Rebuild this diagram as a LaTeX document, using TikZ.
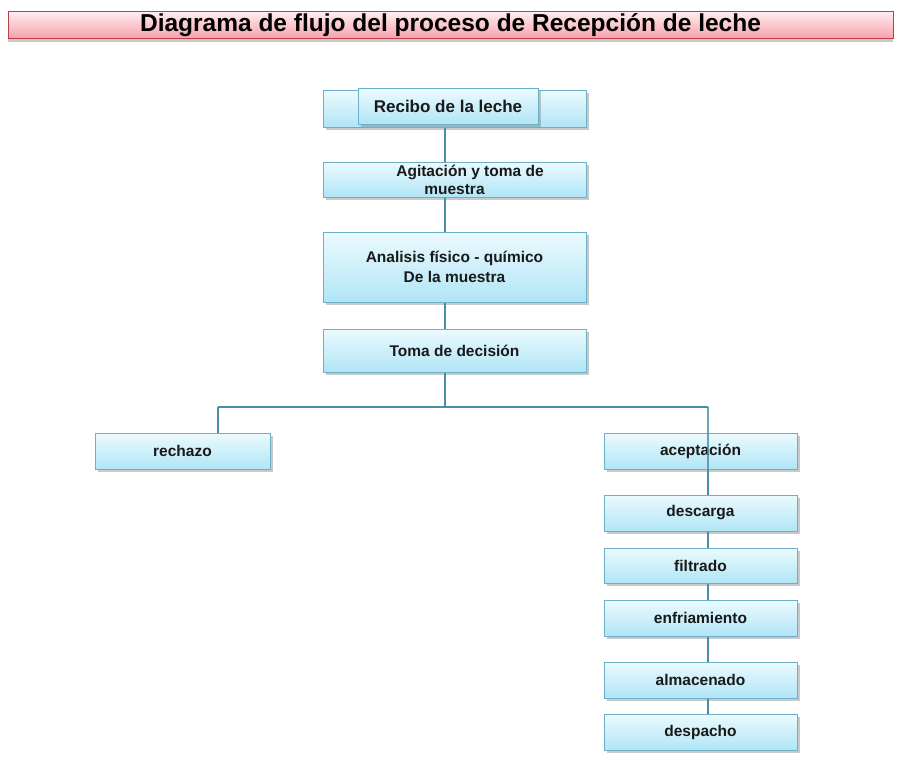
\documentclass[tikz,border=0pt]{standalone}
\usepackage{fontspec}
\setmainfont{Liberation Sans}
\usetikzlibrary{shadows}
\definecolor{boxtop}{RGB}{236,250,254}
\definecolor{boxbot}{RGB}{176,229,246}
\definecolor{boxborder}{RGB}{110,175,200}
\definecolor{linkcol}{RGB}{72,142,168}
\definecolor{titletop}{RGB}{255,236,239}
\definecolor{titlebot}{RGB}{245,160,170}
\definecolor{titleborder}{RGB}{185,65,72}
\begin{document}
\begin{tikzpicture}[x=1pt,y=-1pt,
  box/.style={draw=boxborder, line width=1pt, top color=boxtop, bottom color=boxbot,
    drop shadow={shadow xshift=2.5pt, shadow yshift=-2.5pt, opacity=0.35, fill=black!60},
    font=\bfseries\fontsize{15.5}{19}\selectfont, align=center, inner sep=0pt,
    text=black!90},
  mainbox/.style={box, minimum width=263pt},
  sidebox/.style={box, minimum width=193pt, minimum height=36pt},
  link/.style={draw=linkcol, line width=1.2pt}]
\useasboundingbox (0,0) rectangle (900,760);
\fill[white] (0,0) rectangle (900,760);
% title
\node[draw=titleborder, line width=1pt, top color=titletop, bottom color=titlebot,
  drop shadow={shadow xshift=0pt, shadow yshift=-3pt, opacity=0.35, fill=black!60},
  minimum width=885pt, minimum height=27pt, inner sep=0pt,
  font=\bfseries\fontsize{24.5}{26}\selectfont] (title) at (450.5,25.5)
  {Diagrama de flujo del proceso de Recepción de leche};
% column coordinates
\coordinate (colA) at (445,0);
\coordinate (colR) at (708,0);
\coordinate (colL) at (218,0);
% connectors behind boxes
\coordinate (bar) at (445,407);
\coordinate (barL) at (218,407);
\coordinate (barR) at (708,407);
% boxes
\node[mainbox, minimum height=36pt] (recibo) at (454.5,109) {};
\node[box, minimum width=180pt, minimum height=35pt, font=\bfseries\fontsize{17}{20}\selectfont] (reciboin) at (448,106.5) {Recibo de la leche};
\node[mainbox, minimum height=35pt] (agit) at (454.5,179.5) {};
\node[mainbox, minimum height=70pt] (anal) at (454.5,267) {};
\node[mainbox, minimum height=43pt] (toma) at (454.5,350.5) {Toma de decisión};
\node[sidebox, minimum width=175pt] (rech) at (182.5,451) {rechazo};
\node[sidebox] (acep) at (700.5,451) {aceptación};
\node[sidebox] (desc) at (700.5,513) {descarga};
\node[sidebox, minimum height=35pt] (filt) at (700.5,565.5) {filtrado};
\node[sidebox] (enfr) at (700.5,618) {enfriamiento};
\node[sidebox] (alma) at (700.5,680) {almacenado};
\node[sidebox] (desp) at (700.5,732) {despacho};
% texts of the multi-line boxes
\node[font=\bfseries\fontsize{15.5}{18}\selectfont, align=center, text=black!90, inner sep=0pt] (agittext) at (agit.center) {\hspace*{31pt}Agitación y toma de\\muestra};
\node[font=\bfseries\fontsize{15.5}{20}\selectfont, align=center, text=black!90, inner sep=0pt] (analtext) at (anal.center) {Analisis físico - químico\\De la muestra};
% connectors
\begin{scope}[link]
\draw (recibo.south -| colA) -- (agit.north -| colA);
\draw (agit.south -| colA) -- (anal.north -| colA);
\draw (anal.south -| colA) -- (toma.north -| colA);
\draw (toma.south -| colA) -- (bar);
\draw (barL) -- (barR);
\draw (barL) -- (rech.north -| colL);
\draw[opacity=0.8] (barR) -- (acep.south -| colR);
\draw (acep.south -| colR) -- (desc.north -| colR);
\draw (desc.south -| colR) -- (filt.north -| colR);
\draw (filt.south -| colR) -- (enfr.north -| colR);
\draw (enfr.south -| colR) -- (alma.north -| colR);
\draw (alma.south -| colR) -- (desp.north -| colR);
\end{scope}
\end{tikzpicture}
\end{document}
